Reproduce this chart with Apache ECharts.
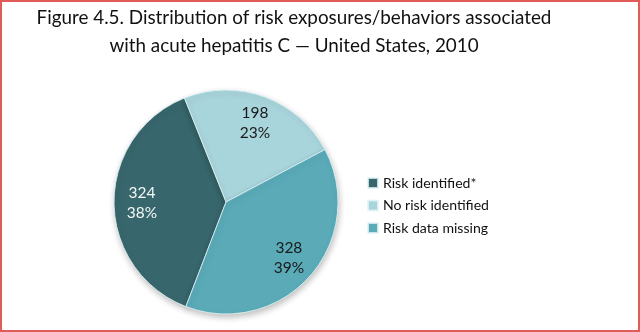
<!DOCTYPE html>
<html>
<head>
<meta charset="utf-8">
<script src="https://cdn.jsdelivr.net/npm/echarts@6/dist/echarts.min.js"></script>
<style>
  html, body { margin: 0; padding: 0; background: #fff; }
  #chart { width: 640px; height: 332px; }
</style>
</head>
<body>
<div id="chart"></div>
<script>
// ---- data ----
const titleLines = ['Figure 4.5. Distribution of risk exposures/behaviors associated', 'with acute hepatitis C \u2014 United States, 2010'];
const categories = ['Risk identified*', 'No risk identified', 'Risk data missing'];
const counts = [324, 198, 328];

// ---- style ----
const FAMILY = 'Lato';
const sliceColors = ['#37666c', '#a8d4db', '#5aaab8'];
const labelColors = ['#f4f7f7', '#1a1a1a', '#1a1a1a'];

function fitSize(text, target) {
  const ctx = document.createElement('canvas').getContext('2d');
  ctx.font = '100px ' + FAMILY;
  return 100 * target / ctx.measureText(text).width;
}
const titleSize = fitSize(titleLines[0], 515);
const legendSize = fitSize(categories[1], 106);
const labelSize = legendSize * 1.1;

const chart = echarts.init(document.getElementById('chart'), null, { renderer: 'canvas' });

const center = [226, 202];
const R = 112;

const mainData = categories.map((name, i) => ({
  name: name,
  value: counts[i],
  itemStyle: { color: sliceColors[i] }
}));
const labelData = categories.map((name, i) => ({
  name: name,
  value: counts[i],
  label: { color: labelColors[i] }
}));

chart.setOption({
  animation: false,
  backgroundColor: '#ffffff',
  title: {
    text: titleLines.join('\n'),
    left: 294,
    top: 4,
    padding: 0,
    textAlign: 'center',
    textStyle: {
      fontFamily: FAMILY,
      fontSize: titleSize,
      fontWeight: 'normal',
      color: '#111',
      lineHeight: 28
    }
  },
  legend: {
    orient: 'vertical',
    left: 367,
    top: 175,
    padding: 0,
    itemWidth: 10,
    itemHeight: 10,
    itemGap: 6.5,
    icon: 'rect',
    data: categories,
    textStyle: {
      fontFamily: FAMILY,
      fontSize: legendSize,
      color: '#111',
      lineHeight: 16
    }
  },
  series: [
    {
      type: 'pie',
      center: center,
      radius: [0, R],
      startAngle: 249,
      clockwise: true,
      percentPrecision: 0,
      label: { show: false },
      labelLine: { show: false },
      emphasis: { disabled: true },
      itemStyle: {
        borderColor: 'rgba(225,245,248,0.8)',
        borderWidth: 1,
        shadowBlur: 6,
        shadowOffsetX: 1,
        shadowOffsetY: 3,
        shadowColor: 'rgba(0,0,0,0.25)'
      },
      data: mainData
    },
    {
      type: 'pie',
      center: center,
      radius: [50, R],
      startAngle: 249,
      clockwise: true,
      silent: true,
      percentPrecision: 0,
      itemStyle: { color: 'rgba(0,0,0,0)' },
      label: {
        show: true,
        position: 'inside',
        formatter: '{c}\n{d}%',
        fontFamily: FAMILY,
        fontSize: labelSize,
        lineHeight: 20
      },
      labelLine: { show: false },
      emphasis: { disabled: true },
      data: labelData
    }
  ],
  graphic: [
    {
      type: 'rect',
      silent: true,
      z: 100,
      shape: { x: 1, y: 1, width: 638, height: 330 },
      style: { fill: 'none', stroke: '#e25b5b', lineWidth: 2 }
    }
  ]
});
</script>
</body>
</html>
